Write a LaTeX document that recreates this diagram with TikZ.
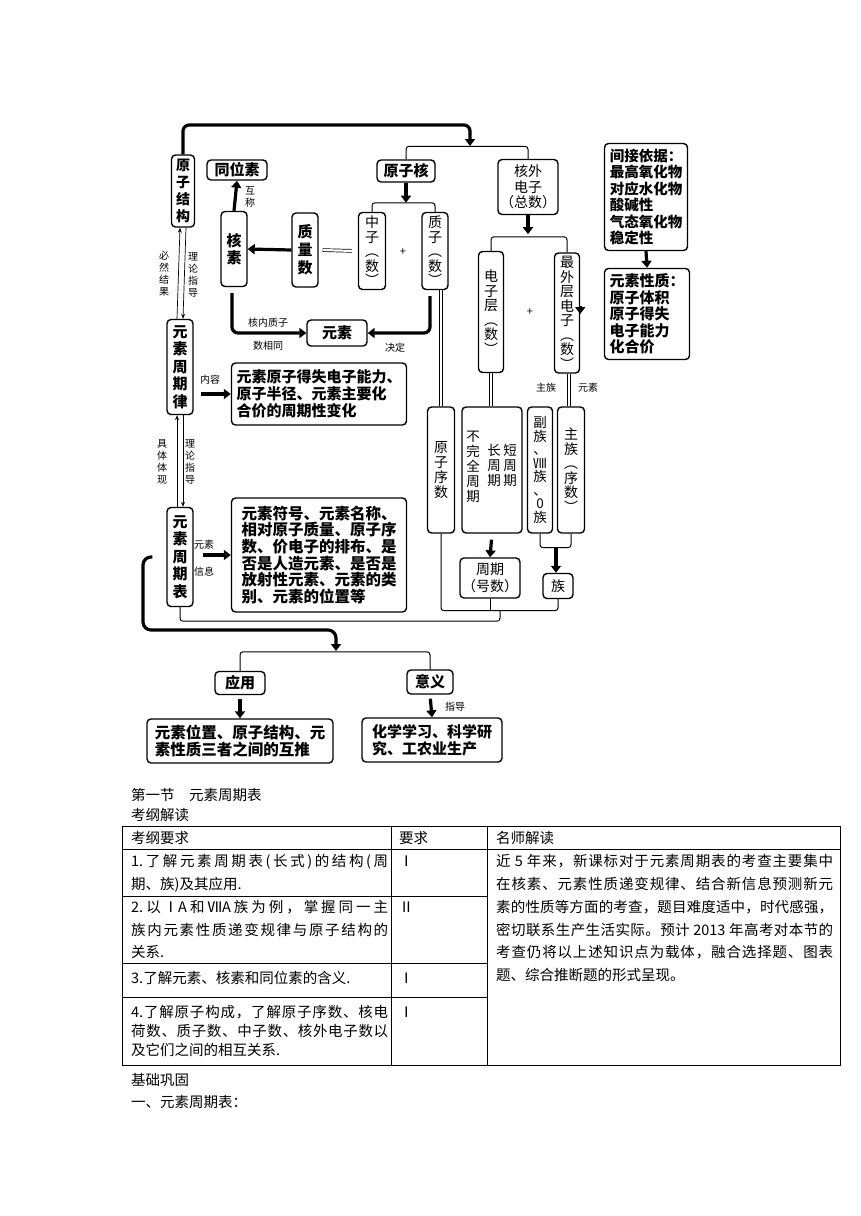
\documentclass[tikz,border=0pt]{standalone}
\usepackage{fontspec}
\usetikzlibrary{arrows.meta}
\newfontfamily\cjk{Noto Sans CJK SC}
\newcommand\FB[2]{\cjk\bfseries\fontsize{#1}{#2}\selectfont}
\newcommand\FR[2]{\cjk\fontsize{#1}{#2}\selectfont}
\def\JLx#1{\ifx\relax#1\else\hfil#1\expandafter\JLx\fi}
\def\JLfirst#1{#1\JLx}
\newcommand\JL[2]{\hbox to #1{\JLfirst#2\relax}}
\begin{document}
\begin{tikzpicture}[x=1pt,y=-1pt,
  bx/.style={draw, line width=1.4pt, rounded corners=4pt, inner sep=0pt, align=center},
  lbl/.style={inner sep=0pt, align=center, font={\FR{10}{12}}},
  tarrow/.style={line width=3.2pt, -{Triangle[width=10pt,length=7pt]}},
  tline/.style={line width=3.2pt, rounded corners=6pt, -{Triangle[width=10pt,length=7pt]}},
  thn/.style={line width=1pt, rounded corners=3pt},
  dbl/.style={line width=0.7pt, double=white, double distance=2.2pt},
  sarr/.style={line width=0.7pt, -{Stealth[length=5pt,width=4pt]}},
  tt/.style={inner sep=0pt, anchor=base west, font={\FR{14.5}{17}}},
  tl/.style={line width=0.8pt}
]
\useasboundingbox (0,0) rectangle (860,1216);
\fill[white] (0,0) rectangle (860,1216);

% ---------- boxes ----------
\node[bx, font={\FB{14}{17}}, minimum width=23, minimum height=72] (yzjg) at (183,191) {原\\子\\结\\构};
\node[bx, font={\FB{15}{17}}, minimum width=60, minimum height=20] (twsu) at (237,170) {同位素};
\node[bx, font={\FB{15}{17}}, minimum width=26, minimum height=75] (hesu) at (234,249) {核\\素};
\node[bx, font={\FB{15}{18}}, minimum width=26, minimum height=74] (zls) at (305,250) {质\\量\\数};
\node[bx, font={\FR{14}{14.5}}, minimum width=27, minimum height=77] (zhz) at (372,251) {中\\子\\︵\\数\\︶};
\node[bx, font={\FR{14}{14.5}}, minimum width=26, minimum height=77] (zhiz) at (435,251) {质\\子\\︵\\数\\︶};
\node[bx, font={\FB{15}{17}}, minimum width=58, minimum height=22] (yzh) at (406,171) {原子核};
\node[bx, font={\FR{14}{15.5}}, minimum width=60, minimum height=55] (hwdz) at (528,187) {核外\\电子\\（总数）};
\node[bx, font={\FB{14.5}{16.5}}, align=left, minimum width=83, minimum height=107] (jjyj) at (646,197) {间接依据：\\最高氧化物\\对应水化物\\酸碱性\\气态氧化物\\稳定性};
\node[bx, font={\FB{15}{16.5}}, align=left, minimum width=85, minimum height=91] (ysxz) at (647,314) {元素性质：\\原子体积\\原子得失\\电子能力\\化合价};
\node[bx, font={\FR{14}{14.5}}, minimum width=25, minimum height=121] (dzc) at (491,312) {电\\子\\层\\︵\\数\\︶};
\node[bx, font={\FR{14}{14.5}}, minimum width=25, minimum height=120] (zwc) at (567,313) {最\\外\\层\\电\\子\\︵\\数\\︶};
\node[bx, font={\FB{15}{17}}, minimum width=60, minimum height=26] (ys) at (337,333) {元素};
\node[bx, font={\FB{15}{17.5}}, minimum width=26, minimum height=95] (zqlv) at (180,367) {元\\素\\周\\期\\律};
\node[bx, font={\FB{15}{17}}, align=left, minimum width=175, minimum height=62] (nr) at (319,394) {元素原子得失电子能力、\\原子半径、元素主要化\\合价的周期性变化};
\node[bx, font={\FR{14}{15}}, minimum width=27, minimum height=126] (yzxs) at (441,470) {原\\子\\序\\数};
\node[bx, minimum width=60, minimum height=126] (zqsub) at (492,470) {};
\node[lbl, font={\FR{13.5}{15}}] (c1) at (473,467) {不\\完\\全\\周\\期};
\node[lbl, font={\FR{13.5}{15}}] (c2) at (494,465) {长\\周\\期};
\node[lbl, font={\FR{13.5}{15}}] (c3) at (510,465) {短\\周\\期};
\node[bx, font={\FR{13.5}{13.5}}, minimum width=25, minimum height=126] (fz) at (540,470) {副\\族\\、\\Ⅷ\\族\\、\\0\\族};
\node[bx, font={\FR{14}{14.5}}, minimum width=27, minimum height=126] (zzx) at (571,470) {主\\族\\︵\\序\\数\\︶};
\node[bx, font={\FR{14}{17}}, minimum width=60, minimum height=40] (zq) at (490,578) {周期\\（号数）};
\node[bx, font={\FR{14}{17}}, minimum width=30, minimum height=25] (zu) at (558,586) {族};
\node[bx, font={\FB{15.5}{16.7}}, align=left, minimum width=175, minimum height=114] (xx) at (319,555) {元素符号、元素名称、\\相对原子质量、原子序\\数、价电子的排布、是\\否是人造元素、是否是\\放射性元素、元素的类\\别、元素的位置等};
\node[bx, font={\FB{15}{17.5}}, minimum width=26, minimum height=99] (zqb) at (180,557) {元\\素\\周\\期\\表};
\node[bx, font={\FB{15}{17}}, minimum width=50, minimum height=23] (yy) at (240,683) {应用};
\node[bx, font={\FB{15}{17}}, minimum width=46, minimum height=24] (yi) at (430,682) {意义};
\node[bx, font={\FB{15.5}{17}}, align=left, minimum width=186, minimum height=44] (yyr) at (240,741) {元素位置、原子结构、元\\素性质三者之间的互推};
\node[bx, font={\FB{15}{17}}, align=left, minimum width=140, minimum height=44] (yir) at (432,740) {化学学习、科学研\\究、工农业生产};

% ---------- connectors ----------
\coordinate (topend) at (470,146);
\draw[tline] (yzjg.north) -- (183,125) -- (470,125) -- (topend);
\draw[thn] (yzh.north) -- ++(0,-13) -| (hwdz.north);
\draw[tarrow] (yzh.south) -- ++(0,20);
\draw[thn] (zhz.north) -- ++(0,-9) -| (zhiz.north);
\draw[dbl, shorten <=4pt, shorten >=6pt] (zls.east) -- (zhz.west);
\node[lbl, font={\FR{11}{12}}] (p1) at (403,252) {+};
\draw[tarrow] (zls.west) -- (hesu.east);
\draw[tarrow] (hesu.north) -- (twsu.south);
\draw[tline, shorten <=6pt] ([xshift=-2pt]hesu.south) |- (ys.west);
\draw[tline, shorten <=6pt] ([xshift=-5pt]zhiz.south) |- (ys.east);
\draw[dbl] (zhiz.south -| yzxs.north) -- (yzxs.north);
\draw[tarrow] (hwdz.south) -- ++(0,19);
\draw[thn] (dzc.north) -- ++(0,-14) -| (zwc.north);
\node[lbl, font={\FR{11}{12}}] (p2) at (530,312) {+};
\draw[tarrow, shorten <=7pt] (zwc.east) -- (ysxz.west -| zwc.east) ;
\draw[tarrow] (jjyj.south) -- (ysxz.north);
\draw[sarr] ([xshift=-3pt]zqlv.north) -- ([xshift=-3pt]yzjg.south);
\draw[sarr] ([xshift=3pt]yzjg.south) -- ([xshift=3pt]zqlv.north);
\draw[tarrow, shorten <=7pt] (nr.west -| zqlv.east) -- (nr.west);
\draw[sarr] ([xshift=-3pt]zqb.north) -- ([xshift=-3pt]zqlv.south);
\draw[sarr] ([xshift=3pt]zqlv.south) -- ([xshift=3pt]zqb.north);
\draw[tarrow, shorten <=9pt] (xx.west -| zqb.east) -- (xx.west);
\draw[dbl] (dzc.south) -- (dzc.south |- zqsub.north);
\draw[dbl] ([xshift=2pt]zwc.south) -- ([xshift=2pt]zwc.south |- zzx.north);
\coordinate (fzb) at (556,547);
\draw[thn] (fz.south) -- ++(0,14) -| (zzx.south);
\draw[tarrow] (fzb) -- (fzb |- zu.north);
\draw[tarrow, shorten <=6pt] (zqsub.south) -- (zq.north);
\draw[thn] (yzxs.south) -- ++(0,77) -| (zu.south);
\draw[thn] (zq.south) -- ++(0,12);
\coordinate (bj) at (500,610);
\draw[thn] (zqb.south) -- ++(0,14) -| (bj);
\coordinate (bigend) at (336,651);
\draw[tline, rounded corners=8pt, shorten <=14pt] (zqb.west) -- (143,557) -- (143,630) -- (336,630) -- (bigend);
\draw[thn] (yy.north) -- ++(0,-19) -| (yi.north);
\draw[tarrow, shorten <=4pt] (yy.south) -- (yyr.north);
\draw[tarrow, shorten <=4pt] (yi.south) -- (yir.north);

% ---------- labels ----------
\node[lbl] (l1) at (250,197) {互\\称};
\node[lbl] (l2) at (164,274) {必\\然\\结\\果};
\node[lbl] (l3) at (193,275) {理\\论\\指\\导};
\node[lbl] (l4) at (268,323) {核内质子};
\node[lbl] (l5) at (268,346) {数相同};
\node[lbl] (l6) at (395,348) {决定};
\node[lbl] (l7) at (210,380) {内容};
\node[lbl] (l8) at (162,462) {具\\体\\体\\现};
\node[lbl] (l9) at (190,462) {理\\论\\指\\导};
\node[lbl] (l10) at (204,545) {元素};
\node[lbl] (l11) at (204,572) {信息};
\node[lbl] (l12) at (546,388) {主族};
\node[lbl] (l13) at (588,388) {元素};
\node[lbl] (l14) at (455,707) {指导};

% ---------- text section ----------
\node[tt] (h1) at (131,800) {第一节\quad 元素周期表};
\node[tt] (h2) at (131,820) {考纲解读};
\draw[tl] (122,826) rectangle (840,1065);
\draw[tl] (122,849) -- (840,849);
\draw[tl] (122,896) -- (487,896);
\draw[tl] (122,963) -- (487,963);
\draw[tl] (122,997) -- (487,997);
\draw[tl] (391,826) -- (391,1065);
\draw[tl] (487,826) -- (487,1065);
\node[tt] (t0a) at (131,843) {考纲要求};
\node[tt] (t0b) at (399,843) {要求};
\node[tt] (t0c) at (496,843) {名师解读};
\node[tt] (t1a) at (131,866) {\JL{257pt}{{1.}了解元素周期表(长式)的结构(周}};
\node[tt] (t1b) at (131,889) {期、族)及其应用.};
\node[tt] (t1c) at (399,866) {Ⅰ};
\node[tt] (t2a) at (131,912) {\JL{257pt}{{2.}以{ⅠA}和{ⅦA}族为例，掌握同一主}};
\node[tt] (t2b) at (131,935) {\JL{257pt}{族内元素性质递变规律与原子结构的}};
\node[tt] (t2c) at (131,957) {关系.};
\node[tt] (t2d) at (399,912) {Ⅱ};
\node[tt] (t3a) at (131,983) {3.了解元素、核素和同位素的含义.};
\node[tt] (t3b) at (399,983) {Ⅰ};
\node[tt] (t4a) at (131,1017) {\JL{257pt}{{4.}了解原子构成，了解原子序数、核电}};
\node[tt] (t4b) at (131,1036) {\JL{257pt}{荷数、质子数、中子数、核外电子数以}};
\node[tt] (t4c) at (131,1055) {及它们之间的相互关系.};
\node[tt] (t4d) at (399,1017) {Ⅰ};
\node[tt] (r1) at (496,866) {\JL{337pt}{近{\ 5\ }年来，新课标对于元素周期表的考查主要集中}};
\node[tt] (r2) at (496,889) {\JL{337pt}{在核素、元素性质递变规律、结合新信息预测新元}};
\node[tt] (r3) at (496,912) {\JL{337pt}{素的性质等方面的考查，题目难度适中，时代感强，}};
\node[tt] (r4) at (496,935) {\JL{337pt}{密切联系生产生活实际。预计{\ 2013\ }年高考对本节的}};
\node[tt] (r5) at (496,957) {\JL{337pt}{考查仍将以上述知识点为载体，融合选择题、图表}};
\node[tt] (r6) at (496,980) {题、综合推断题的形式呈现。};
\node[tt] (f1) at (131,1085) {基础巩固};
\node[tt] (f2) at (131,1107) {一、元素周期表：};
\end{tikzpicture}
\end{document}
